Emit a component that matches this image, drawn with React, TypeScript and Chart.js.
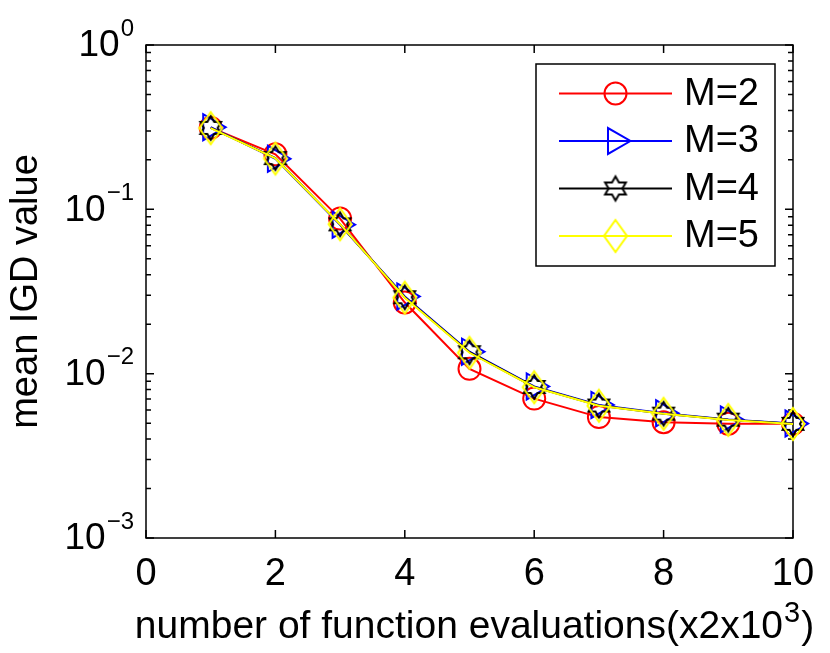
import React, { useEffect, useRef } from 'react';
import { Chart, registerables } from 'chart.js';
import { drawPoint } from 'chart.js/helpers';

Chart.register(...registerables);

// ---- data ----
const evaluations = [1, 2, 3, 4, 5, 6, 7, 8, 9, 10];
const igdM2 = [0.314, 0.216, 0.0878, 0.0271, 0.0107, 0.00705, 0.00544, 0.00507, 0.00496, 0.00496];
const igdM3 = [0.316, 0.203, 0.0806, 0.0295, 0.0136, 0.00836, 0.00645, 0.00574, 0.00527, 0.00497];
const igdM4 = [0.313, 0.205, 0.081, 0.0292, 0.0135, 0.0083, 0.0064, 0.00571, 0.00525, 0.00495];
const igdM5 = [0.312, 0.204, 0.0812, 0.029, 0.0134, 0.00827, 0.00638, 0.0057, 0.00523, 0.00494];
const seriesLabels = ['M=2', 'M=3', 'M=4', 'M=5'];
const xTickValues = [0, 2, 4, 6, 8, 10];
const yMin = 0.001;
const yMax = 1;
const xTitleBase = 'number of function evaluations(x2x10';
const xTitleSup = '3';
const xTitleEnd = ')';
const yTitle = 'mean IGD value';

const FONT = '"Liberation Sans", Arial, Helvetica, sans-serif';

function makeDiamond(color: string) {
  const c = document.createElement('canvas');
  c.width = 28;
  c.height = 38;
  const g = c.getContext('2d')!;
  g.strokeStyle = color;
  g.lineWidth = 2;
  g.beginPath();
  g.moveTo(14, 3);
  g.lineTo(25.5, 19);
  g.lineTo(14, 35);
  g.lineTo(2.5, 19);
  g.closePath();
  g.stroke();
  return c;
}

function makeHexagram(color: string) {
  const c = document.createElement('canvas');
  c.width = 30;
  c.height = 30;
  const g = c.getContext('2d')!;
  g.strokeStyle = color;
  g.lineWidth = 2;
  const R = 12;
  const r = R / Math.sqrt(3);
  g.beginPath();
  for (let i = 0; i < 12; i++) {
    const ang = -Math.PI / 2 + (i * Math.PI) / 6;
    const rad = i % 2 === 0 ? R : r;
    const px = 15 + rad * Math.cos(ang);
    const py = 15 + rad * Math.sin(ang);
    if (i === 0) g.moveTo(px, py);
    else g.lineTo(px, py);
  }
  g.closePath();
  g.stroke();
  return c;
}

const framePlugin = {
  id: 'matlabFrame',
  beforeDatasetsDraw(chart: any) {
    const { ctx, chartArea: a } = chart;
    const xs = chart.scales.x;
    const ys = chart.scales.y;
    ctx.save();
    ctx.strokeStyle = '#000';
    ctx.lineWidth = 1.5;
    ctx.strokeRect(a.left, a.top, a.right - a.left, a.bottom - a.top);
    ctx.beginPath();
    xs.ticks.forEach((t: any) => {
      const x = xs.getPixelForValue(t.value);
      ctx.moveTo(x, a.bottom);
      ctx.lineTo(x, a.bottom - 8);
      ctx.moveTo(x, a.top);
      ctx.lineTo(x, a.top + 8);
    });
    const e0 = Math.floor(Math.log10(ys.min) + 1e-9);
    const e1 = Math.ceil(Math.log10(ys.max) - 1e-9);
    for (let e = e0; e <= e1; e++) {
      for (let m = 1; m <= 9; m++) {
        const v = m * Math.pow(10, e);
        if (v < ys.min * 0.999 || v > ys.max * 1.001) continue;
        const y = ys.getPixelForValue(v);
        const len = m === 1 ? 8 : 5;
        ctx.moveTo(a.left, y);
        ctx.lineTo(a.left + len, y);
        ctx.moveTo(a.right, y);
        ctx.lineTo(a.right - len, y);
      }
    }
    ctx.stroke();
    ctx.restore();
  },
  afterDraw(chart: any) {
    const { ctx, chartArea: a } = chart;
    const ys = chart.scales.y;
    ctx.save();
    ctx.fillStyle = '#000';
    ctx.textBaseline = 'middle';
    ctx.textAlign = 'left';

    // y tick labels 10^e
    const e0 = Math.floor(Math.log10(ys.min) + 1e-9);
    const e1 = Math.ceil(Math.log10(ys.max) - 1e-9);
    for (let e = e0; e <= e1; e++) {
      const v = Math.pow(10, e);
      const y = ys.getPixelForValue(v);
      const expStr = e === 0 ? '0' : '\u2212' + Math.abs(e);
      const baseFont = `37px ${FONT}`;
      const expFont = `24px ${FONT}`;
      ctx.font = expFont;
      const ew = ctx.measureText(expStr).width;
      ctx.font = baseFont;
      const bw = ctx.measureText('10').width;
      const right = a.left - 12;
      ctx.fillText('10', right - ew - bw - 1, y + 1);
      ctx.font = expFont;
      ctx.fillText(expStr, right - ew, y - 16);
    }

    // x title with superscript
    ctx.textBaseline = 'alphabetic';
    const tf = `39px ${FONT}`;
    const sf = `29px ${FONT}`;
    ctx.font = tf;
    const w1 = ctx.measureText(xTitleBase).width;
    const w3 = ctx.measureText(xTitleEnd).width;
    ctx.font = sf;
    const w2 = ctx.measureText(xTitleSup).width;
    const total = w1 + w2 + w3 + 2;
    const tx = (a.left + a.right) / 2 + 5 - total / 2;
    const ty = a.bottom + 100;
    ctx.font = tf;
    ctx.fillText(xTitleBase, tx, ty);
    ctx.font = sf;
    ctx.fillText(xTitleSup, tx + w1 + 1, ty - 16);
    ctx.font = tf;
    ctx.fillText(xTitleEnd, tx + w1 + w2 + 2, ty);

    // legend
    const datasets = chart.data.datasets;
    const bw = 239;
    const bh = 202;
    const bx = a.right - 18 - bw;
    const by = a.top + 19;
    ctx.fillStyle = '#fff';
    ctx.fillRect(bx, by, bw, bh);
    ctx.strokeStyle = '#000';
    ctx.lineWidth = 1.5;
    ctx.strokeRect(bx, by, bw, bh);
    datasets.forEach((ds: any, i: number) => {
      const y = by + 29.5 + i * 47.5;
      ctx.strokeStyle = ds.borderColor;
      ctx.lineWidth = 2;
      ctx.beginPath();
      ctx.moveTo(bx + 23, y);
      ctx.lineTo(bx + 136, y);
      ctx.stroke();
      ctx.fillStyle = 'rgba(0,0,0,0)';
      drawPoint(ctx, {
        pointStyle: ds.pointStyle,
        rotation: ds.pointRotation || 0,
        radius: ds.pointRadius,
        borderWidth: 2,
      } as any, bx + 79.5, y);
      ctx.fillStyle = '#000';
      ctx.font = `38px ${FONT}`;
      ctx.textBaseline = 'middle';
      ctx.textAlign = 'left';
      ctx.fillText(ds.label, bx + 148, y + 1);
    });
    ctx.restore();
  },
};

export default function App() {
  const canvasRef = useRef<HTMLCanvasElement | null>(null);

  useEffect(() => {
    const canvas = canvasRef.current!;
    const toXY = (vals: number[]) => vals.map((v, i) => ({ x: evaluations[i], y: v }));
    const common = {
      backgroundColor: 'rgba(0,0,0,0)',
      pointBackgroundColor: 'rgba(0,0,0,0)',
      borderWidth: 2,
      pointBorderWidth: 2,
      tension: 0,
      clip: false,
    };
    const chart = new Chart(canvas, {
      type: 'line',
      data: {
        datasets: [
          { ...common, label: seriesLabels[0], data: toXY(igdM2), borderColor: '#ff0000', pointBorderColor: '#ff0000', pointStyle: 'circle', pointRadius: 11, order: 4 },
          { ...common, label: seriesLabels[1], data: toXY(igdM3), borderColor: '#0000ff', pointBorderColor: '#0000ff', pointStyle: 'triangle', pointRotation: 90, pointRadius: 15, order: 3 },
          { ...common, label: seriesLabels[2], data: toXY(igdM4), borderColor: '#000000', pointBorderColor: '#000000', pointStyle: makeHexagram('#000000'), pointRadius: 12, order: 2 },
          { ...common, label: seriesLabels[3], data: toXY(igdM5), borderColor: '#ffff00', pointBorderColor: '#ffff00', pointStyle: makeDiamond('#ffff00'), pointRadius: 14, order: 1 },
        ] as any,
      },
      options: {
        animation: false,
        responsive: false,
        devicePixelRatio: 1,
        layout: { padding: { top: 45, right: 37, left: 0, bottom: 0 } },
        plugins: { legend: { display: false }, tooltip: { enabled: false } },
        scales: {
          x: {
            type: 'linear',
            min: 0,
            max: 10,
            afterBuildTicks: (s: any) => {
              s.ticks = xTickValues.map((v) => ({ value: v }));
            },
            afterFit: (s: any) => {
              s.height = 115;
            },
            grid: { display: false, drawTicks: false },
            border: { display: false },
            ticks: { color: '#000', font: { family: FONT, size: 38 }, padding: 14, maxRotation: 0 },
            title: { display: false },
          },
          y: {
            type: 'logarithmic',
            min: yMin,
            max: yMax,
            afterFit: (s: any) => {
              s.width = 146;
            },
            grid: { display: false, drawTicks: false },
            border: { display: false },
            ticks: { display: false },
            title: { display: true, text: yTitle, color: '#000', font: { family: FONT, size: 38 }, padding: { top: 4, bottom: 0 } },
          },
        },
      } as any,
      plugins: [framePlugin],
    });
    return () => chart.destroy();
  }, []);

  return (
    <div style={{ position: 'fixed', left: 0, top: 0, width: 830, height: 653, background: '#fff' }}>
      <canvas ref={canvasRef} width={830} height={653} style={{ width: 830, height: 653, display: 'block' }} />
    </div>
  );
}
